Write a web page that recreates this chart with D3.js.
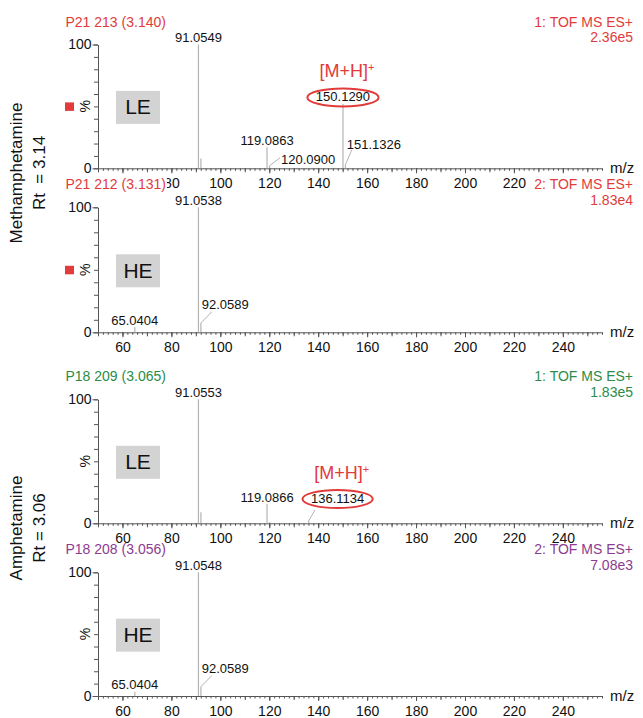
<!DOCTYPE html>
<html>
<head>
<meta charset="utf-8">
<script src="https://cdn.jsdelivr.net/npm/d3@7"></script>
<style>
  body { margin: 0; background: #fff; }
  text { font-family: "Liberation Sans", Arial, Helvetica, sans-serif; }
</style>
</head>
<body>
<svg id="chart" width="643" height="718"></svg>
<script>
// header texts of the four spectra
var panelTitles = ["P21 213 (3.140)", "P21 212 (3.131)", "P18 209 (3.065)", "P18 208 (3.056)"];
var panelFunctions = ["1: TOF MS ES+", "2: TOF MS ES+", "1: TOF MS ES+", "2: TOF MS ES+"];
var panelMaxima = ["2.36e5", "1.83e4", "1.83e5", "7.08e3"];
var panelModes = ["LE", "HE", "LE", "HE"];
var compounds = [["Methamphetamine", "Rt  = 3.14"], ["Amphetamine", "Rt = 3.06"]];

var mzDomain = [50, 256];
var xTickLabels = [60, 80, 100, 120, 140, 160, 180, 200, 220, 240];
var yTickLabels = [0, 100];

// peaks: [m/z, relative intensity %, label]
var methLE = [[91.0549, 100, "91.0549"], [92.06, 8, ""], [119.0863, 17, "119.0863"],
              [120.0900, 2, "120.0900"], [150.1290, 52, "150.1290"], [151.1326, 3, "151.1326"]];
var methHE = [[65.0404, 4, "65.0404"], [91.0538, 100, "91.0538"], [92.0589, 7.5, "92.0589"]];
var amphLE = [[91.0553, 100, "91.0553"], [92.06, 9, ""], [119.0866, 15.5, "119.0866"],
              [120.09, 1, ""], [136.1134, 2, "136.1134"]];
var amphHE = [[65.0404, 3.5, "65.0404"], [91.0548, 100, "91.0548"], [92.0589, 7.5, "92.0589"]];
var precursors = ["150.1290", null, "136.1134", null];

var spectra = [methLE, methHE, amphLE, amphHE];

// layout / styling
var red = "#e23b3b", green = "#2c8c48", purple = "#8c3c92";
var layout = [
  {top: 44.5, base: 168.3, color: red, mask: false, marker: true},
  {top: 207.3, base: 332.3, color: red, mask: true, marker: true},
  {top: 399.3, base: 523.3, color: green, mask: false, marker: false},
  {top: 572.3, base: 696, color: purple, mask: false, marker: false}
];
// labels drawn off to the side with a leader line: [leader dx, leader dy, text dx, text dy]
var leaderLabels = {
  "120.0900": [10.5, -8, 11.5, -1.8],
  "151.1326": [6.3, -14.6, 1.3, -15.6],
  "92.0589": [10.8, -11, 0.8, -13.5],
  "136.1134": [6.3, -10.8, 2.3, -17.8]
};
var compoundCenters = [173, 528];

var svg = d3.select("#chart");
var x = d3.scaleLinear().domain(mzDomain).range([98, 602]);

var axisColor = "#555";
var headers = svg.append("g").attr("id", "headers");

layout.forEach(function(p, i) {
  var y = d3.scaleLinear().domain([0, 100]).range([p.base, p.top]);
  var mid = (p.base + p.top) / 2;
  var plot = svg.append("g").attr("class", "panel");

  // x axis: minor ticks every 2, medium every 10, labels every 20
  plot.append("g")
    .attr("transform", "translate(0," + p.base + ")")
    .call(d3.axisBottom(x).tickValues(d3.range(mzDomain[0], mzDomain[1] + 1, 2))
      .tickSize(2.5).tickSizeOuter(0).tickFormat(""));
  plot.append("g")
    .attr("transform", "translate(0," + p.base + ")")
    .call(d3.axisBottom(x).tickValues(d3.range(mzDomain[0], mzDomain[1] + 1, 10))
      .tickSize(4).tickFormat(""))
    .select(".domain").remove();
  plot.append("g")
    .attr("class", "xlab")
    .attr("transform", "translate(0," + p.base + ")")
    .call(d3.axisBottom(x).tickValues(xTickLabels).tickSize(5).tickPadding(5).tickFormat(d3.format("d")))
    .select(".domain").remove();

  // y axis
  plot.append("g")
    .attr("transform", "translate(98,0)")
    .call(d3.axisLeft(y).tickValues(d3.range(0, 101, 10)).tickSize(4).tickSizeOuter(0).tickFormat(""));
  plot.append("g")
    .attr("transform", "translate(98,0)")
    .call(d3.axisLeft(y).tickValues(yTickLabels).tickSize(5.5).tickPadding(1).tickFormat(d3.format("d")))
    .select(".domain").remove();

  plot.selectAll(".domain, .tick line").attr("stroke", axisColor).attr("stroke-width", 1);
  plot.selectAll(".tick text").attr("fill", "#111").style("font-size", "14px")
    .style("font-family", "'Liberation Sans', Arial, sans-serif");

  plot.append("text")
    .attr("x", 610).attr("y", p.base + 5)
    .style("font-size", "15px").attr("fill", "#111")
    .text("m/z");

  plot.append("text")
    .attr("transform", "translate(90," + mid + ") rotate(-90)")
    .attr("text-anchor", "middle")
    .style("font-size", "14px").attr("fill", "#111")
    .text("%");

  if (p.marker) {
    plot.append("rect")
      .attr("x", 65).attr("y", mid - 4)
      .attr("width", 9).attr("height", 8.5)
      .attr("fill", red);
  }

  // LE / HE box
  plot.append("rect")
    .attr("x", 116).attr("y", mid - 15.5)
    .attr("width", 44).attr("height", 33)
    .attr("fill", "#d3d3d3");
  plot.append("text")
    .attr("x", 138).attr("y", mid + 8)
    .attr("text-anchor", "middle")
    .style("font-size", "21px").attr("fill", "#111")
    .text(panelModes[i]);

  // peaks
  var peaks = spectra[i];
  plot.selectAll("line.peak")
    .data(peaks)
    .enter()
    .append("line")
    .attr("class", "peak")
    .attr("x1", d => x(d[0])).attr("x2", d => x(d[0]))
    .attr("y1", y(0)).attr("y2", d => y(d[1]))
    .attr("stroke", "#b4b4b4")
    .attr("stroke-width", 1.2);

  peaks.filter(d => d[2] !== "").forEach(function(d) {
    var px = x(d[0]), py = y(d[1]);
    var off = leaderLabels[d[2]];
    var t;
    if (off) {
      plot.append("line")
        .attr("x1", px).attr("y1", py)
        .attr("x2", px + off[0]).attr("y2", py + off[1])
        .attr("stroke", "#aaa").attr("stroke-width", 0.9);
      t = plot.append("text")
        .attr("x", px + off[2]).attr("y", py + off[3]);
    } else {
      t = plot.append("text")
        .attr("x", px).attr("y", py - 2.5)
        .attr("text-anchor", "middle");
    }
    t.style("font-size", "13px").attr("fill", "#111").text(d[2]);

    if (precursors[i] === d[2]) {
      var b = t.node().getBBox();
      var cx = b.x + b.width / 2, cy = b.y + b.height / 2 + 0.5;
      plot.append("ellipse")
        .attr("cx", cx).attr("cy", cy)
        .attr("rx", b.width / 2 + 8.5).attr("ry", b.height / 2 + 1.5)
        .attr("fill", "none")
        .attr("stroke", red).attr("stroke-width", 2);
      var mh = plot.append("text")
        .attr("x", cx + 4).attr("y", cy - 20)
        .attr("text-anchor", "middle")
        .style("font-size", "18px").attr("fill", red);
      mh.append("tspan").text("[M+H]");
      mh.append("tspan").attr("dy", -6).style("font-size", "11px").text("+");
    }
  });

  // headers (the masked one covers the axis labels of the panel above)
  var hy = p.top - 18;
  var title = headers.append("text")
    .attr("x", 65.5).attr("y", hy)
    .style("font-size", "14px").attr("fill", p.color)
    .text(panelTitles[i]);
  var fn = headers.append("text")
    .attr("x", 633).attr("y", hy)
    .attr("text-anchor", "end")
    .style("font-size", "14px").attr("fill", p.color)
    .text(panelFunctions[i]);
  headers.append("text")
    .attr("x", 633).attr("y", hy + 15.5)
    .attr("text-anchor", "end")
    .style("font-size", "14px").attr("fill", p.color)
    .text(panelMaxima[i]);
  if (p.mask) {
    [title, fn].forEach(function(t) {
      var b = t.node().getBBox();
      headers.insert("rect", function() { return t.node(); })
        .attr("x", b.x - 1).attr("y", b.y)
        .attr("width", b.width + 2).attr("height", b.height)
        .attr("fill", "#fff");
    });
  }
});

headers.raise();

// compound names on the left
compounds.forEach(function(c, i) {
  svg.append("text")
    .attr("transform", "translate(22," + compoundCenters[i] + ") rotate(-90)")
    .attr("text-anchor", "middle")
    .style("font-size", "17px").attr("fill", "#111")
    .text(c[0]);
  svg.append("text")
    .attr("transform", "translate(45," + compoundCenters[i] + ") rotate(-90)")
    .attr("text-anchor", "middle")
    .style("font-size", "17px").attr("fill", "#111")
    .style("white-space", "pre")
    .text(c[1]);
});
</script>
</body>
</html>
